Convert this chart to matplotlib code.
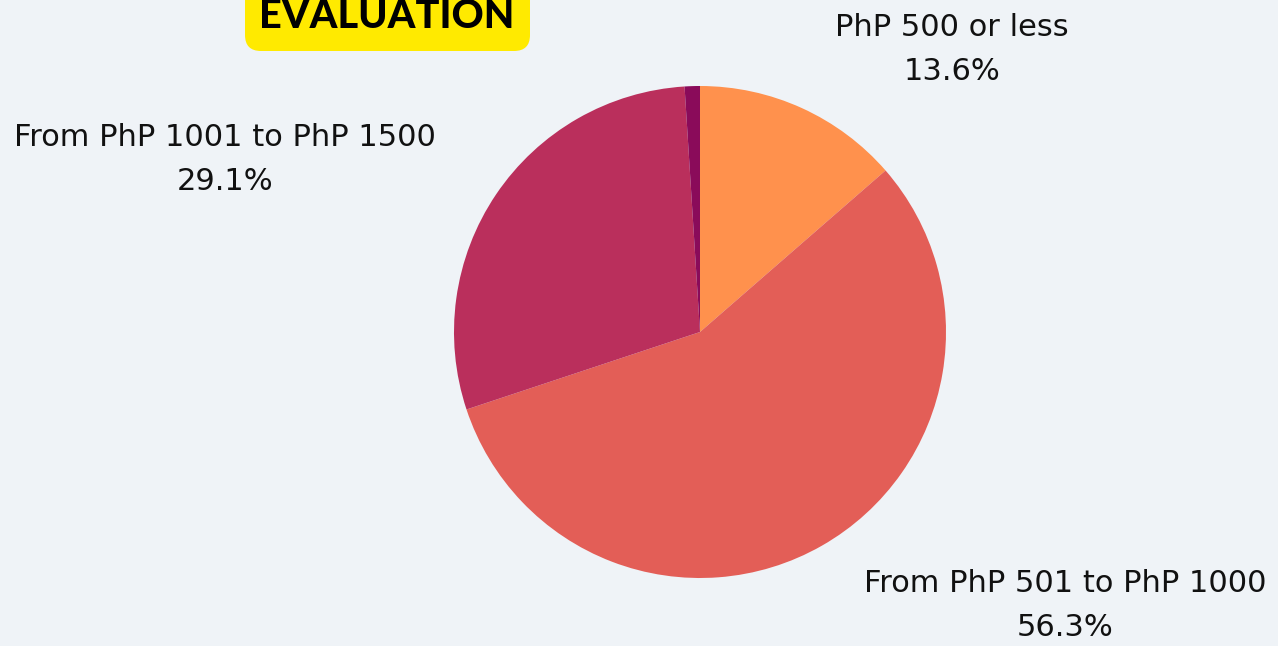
import matplotlib
matplotlib.use("Agg")
import matplotlib.pyplot as plt
from matplotlib.patches import FancyBboxPatch

categories = ["PhP 500 or less", "From PhP 501 to PhP 1000",
              "From PhP 1001 to PhP 1500", "Above PhP 1500"]
values = [13.6, 56.3, 29.1, 1.0]
colors = ["#FF914D", "#E35E57", "#BA2F5C", "#8A0B5A"]
show_label = [True, True, True, False]
title = "EVALUATION"

W, H = 1278, 646
fig = plt.figure(figsize=(W / 100, H / 100), dpi=100)
fig.patch.set_facecolor("#EFF3F7")
ax = fig.add_axes([0, 0, 1, 1])

# y axis is inverted below (pixel coordinates), so a visually clockwise
# pie starting at the top is drawn counter-clockwise from -90 degrees.
ax.pie(values, colors=colors, startangle=-90, counterclock=True,
       center=(700, 332), radius=246, wedgeprops=dict(linewidth=0))
ax.set_xlim(0, W)
ax.set_ylim(H, 0)
ax.set_aspect("equal")
ax.axis("off")

label_pos = [(952, 27), (1065, 584), (225, 137), None]
fam = ["DejaVu Sans"]
for cat, v, pos, show in zip(categories, values, label_pos, show_label):
    if not show:
        continue
    x, y = pos
    ax.text(x, y, cat, ha="center", va="center", fontsize=22,
            family=fam, color="#111111")
    ax.text(x, y + 44, f"{v:.1f}%", ha="center", va="center", fontsize=22,
            family=fam, color="#111111")

box = FancyBboxPatch((245, -40), 285, 91, boxstyle="round,pad=0,rounding_size=16",
                     facecolor="#FFEA00", edgecolor="none")
ax.add_patch(box)
ax.text(387, 16, title, ha="center", va="center", fontsize=28.5,
        family=["Lato", "DejaVu Sans"], fontweight="black", color="#000000")

fig.savefig("out.png", dpi=100, facecolor=fig.get_facecolor())
